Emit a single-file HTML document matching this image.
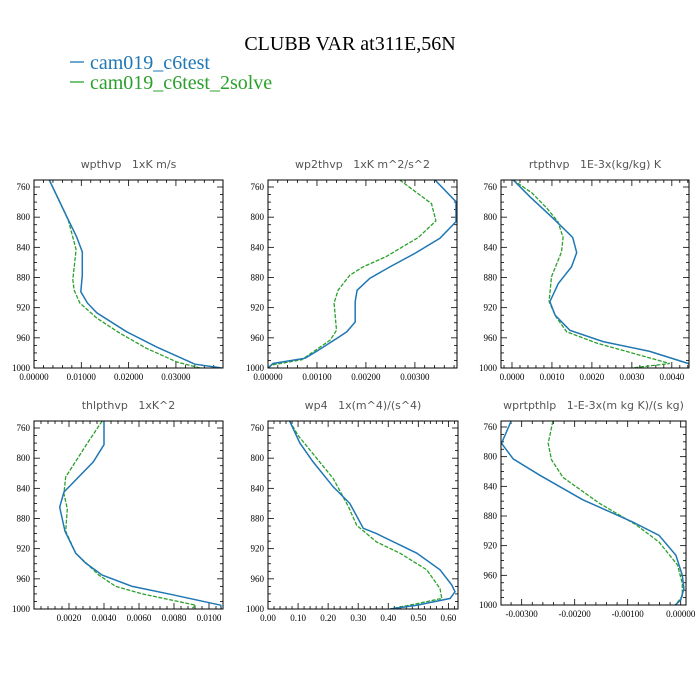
<!DOCTYPE html>
<html><head><meta charset="utf-8"><style>
html,body{margin:0;padding:0;background:#fff;}
svg{display:block;}
.ttl{font-family:"DejaVu Sans",sans-serif;font-size:11px;fill:#555;}
.tk{font-family:"Liberation Serif",serif;font-size:9px;fill:#000;}
</style></head><body>
<svg id="fig" width="700" height="700" viewBox="0 0 700 700">
<text x="350" y="50" text-anchor="middle" font-family="Liberation Serif,serif" font-size="20" fill="#000">CLUBB VAR at311E,56N</text>
<g>
<line x1="70" y1="62" x2="84" y2="62" stroke="#1f77b4" stroke-width="1.3"/>
<text x="90" y="69" font-family="Liberation Serif,serif" font-size="20" fill="#1f77b4">cam019_c6test</text>
<line x1="70" y1="82" x2="84" y2="82" stroke="#2ca02c" stroke-width="1.3"/>
<text x="90" y="89" font-family="Liberation Serif,serif" font-size="20" fill="#2ca02c">cam019_c6test_2solve</text>
</g>
</svg>
<script>
// ---- data ----
const p1Lev=[750.7,804,826,846,877,899,914,927,952,972,995,1000];
const p1Blue=[0.00324,0.0073,0.0090,0.0102,0.0102,0.0099,0.0113,0.0133,0.0196,0.0259,0.0340,0.0397];
const p1GreenLev=[750.7,804,843,883,897,914,934,954,974,992,1000];
const p1Green=[0.00324,0.00725,0.0089,0.0082,0.0085,0.0097,0.0133,0.0182,0.0238,0.0302,0.0351];
const p2Lev=[750.7,779.5,806,828,848,866,881,897,912,939,952,961,978,987,994,1000];
const p2Blue=[0.00341,0.00384,0.00384,0.00351,0.0030,0.00249,0.00208,0.00182,0.00178,0.00178,0.00161,0.0014,0.00099,0.00076,0.0001,0];
const p2GreenLev=[750.7,782,805,827,852,866,877,897,914,950,963,989,996,1000];
const p2Green=[0.00269,0.00334,0.00343,0.00307,0.00242,0.00194,0.00167,0.00143,0.00135,0.0014,0.00127,0.00069,0.00008,0];
const p3Lev=[750.7,773,804,827,847,866,888,912,930,950,965,978,994,1000];
const p3Blue=[0.00003,0.00045,0.00108,0.00152,0.00162,0.00149,0.00116,0.00095,0.00108,0.00145,0.00228,0.00345,0.00441,0.0046];
const p3GreenLev=[750.7,768,788,806,827,846,879,912,932,952,967,983,994,1000];
const p3Green=[0.00003,0.0005,0.00087,0.00115,0.00128,0.00124,0.00099,0.00093,0.0011,0.00137,0.00212,0.0032,0.00395,0.0030];
const p4Lev=[750.7,782,805,845,865,897,926,939,955,970,981,995,1000];
const p4Blue=[0.004,0.004,0.00339,0.00171,0.00147,0.00177,0.00238,0.00295,0.0039,0.00562,0.0079,0.01067,0.0107];
const p4GreenLev=[750.7,780,825,847,867,897,926,955,970,980,995,999];
const p4Green=[0.0039,0.00305,0.00181,0.00171,0.0019,0.00181,0.00238,0.00371,0.00467,0.00619,0.00924,0.00905];
const p5Lev=[750.7,780,805,838,860,893,900,926,948,968,977,986,995,1000];
const p5Blue=[0.072,0.106,0.15,0.217,0.272,0.317,0.361,0.495,0.572,0.611,0.622,0.606,0.495,0.406];
const p5GreenLev=[750.7,770,827,864,889,911,926,948,973,986,993,1000];
const p5Green=[0.072,0.10,0.217,0.267,0.295,0.361,0.439,0.528,0.572,0.578,0.495,0.406];
const p6Lev=[752,782,803,825,858,888,906,933,960,978,993,1000];
const p6Blue=[-0.0032,-0.00338,-0.00316,-0.00266,-0.00185,-0.00091,-0.00041,-0.00009,0.00003,0.00006,0,-0.0001];
const p6GreenLev=[752,782,804,828,863,892,915,946,971,988,1000];
const p6Green=[-0.00241,-0.0025,-0.00244,-0.00222,-0.00153,-0.00084,-0.00041,-0.00006,0.00003,0.00003,-0.0001];
const yTicks=[760,800,840,880,920,960,1000];
const p1XTicks=["0.00000","0.01000","0.02000","0.03000"];
const p2XTicks=["0.00000","0.00100","0.00200","0.00300"];
const p3XTicks=["0.0000","0.0010","0.0020","0.0030","0.0040"];
const p4XTicks=["0.0020","0.0040","0.0060","0.0080","0.0100"];
const p5XTicks=["0.00","0.10","0.20","0.30","0.40","0.50","0.60"];
const p6XTicks=["-0.00300","-0.00200","-0.00100","0.00000"];

const NS="http://www.w3.org/2000/svg";
const svg=document.getElementById('fig');
function mk(tag,attrs,parent){const e=document.createElementNS(NS,tag);for(const k in attrs)e.setAttribute(k,attrs[k]);(parent||svg).appendChild(e);return e;}

const panels=[
 {name:'wpthvp',title:'wpthvp   1xK m/s',x0:34,x1:223,yT:180,y760:187,yB:368,xmin:0,xmax:0.03995,major:0.01,ticks:p1XTicks,bl:p1Lev,bv:p1Blue,gl:p1GreenLev,gv:p1Green},
 {name:'wp2thvp',title:'wp2thvp   1xK m^2/s^2',x0:268,x1:457,yT:180,y760:187,yB:368,xmin:0,xmax:0.00386,major:0.001,ticks:p2XTicks,bl:p2Lev,bv:p2Blue,gl:p2GreenLev,gv:p2Green},
 {name:'rtpthvp',title:'rtpthvp   1E-3x(kg/kg) K',x0:501,x1:689,yT:180,y760:187,yB:368,xmin:-0.000275,xmax:0.00443,major:0.001,ticks:p3XTicks,bl:p3Lev,bv:p3Blue,gl:p3GreenLev,gv:p3Green},
 {name:'thlpthvp',title:'thlpthvp   1xK^2',x0:34,x1:223,yT:421,y760:428,yB:609,xmin:0,xmax:0.0108,major:0.002,ticks:p4XTicks,tickStart:0.002,bl:p4Lev,bv:p4Blue,gl:p4GreenLev,gv:p4Green},
 {name:'wp4',title:'wp4   1x(m^4)/(s^4)',x0:268,x1:458,yT:421,y760:428,yB:609,xmin:0,xmax:0.632,major:0.1,ticks:p5XTicks,bl:p5Lev,bv:p5Blue,gl:p5GreenLev,gv:p5Green},
 {name:'wprtpthlp',title:'wprtpthlp   1-E-3x(m kg K)/(s kg)',x0:501,x1:686,yT:421,y760:427,yB:605,xmin:-0.00339,xmax:0.0001,major:0.001,ticks:p6XTicks,tickStart:-0.003,bl:p6Lev,bv:p6Blue,gl:p6GreenLev,gv:p6Green}
];

panels.forEach(P=>{
 const g=mk('g',{});
 
 
 const sx=v=>P.x0+(v-P.xmin)/(P.xmax-P.xmin)*(P.x1-P.x0);
 const sy=p=>P.yB-(1000-p)*(P.yB-P.y760)/240;
 const cid='clip-'+P.name;
 const cp=mk('clipPath',{id:cid},g);
 mk('rect',{x:P.x0,y:P.yT,width:P.x1-P.x0,height:P.yB-P.yT},cp);
 const t=mk('text',{x:(P.x0+P.x1)/2,y:P.yT-12,'text-anchor':'middle',class:'ttl','xml:space':'preserve'},g);
 t.textContent=P.title.replace(/   /g,'\u00a0\u00a0\u00a0');
 
 
 // y ticks
 for(let p=760;p<=1000;p+=10){
  const y=sy(p);const L=(p%40===0)?6:3;
  mk('line',{x1:P.x0,y1:y,x2:P.x0+L,y2:y,stroke:'#000','stroke-width':0.8},g);
  mk('line',{x1:P.x1,y1:y,x2:P.x1-L,y2:y,stroke:'#000','stroke-width':0.8},g);
 }
 yTicks.forEach(p=>{
  const tt=mk('text',{x:P.x0-4,y:sy(p)+3,'text-anchor':'end',class:'tk'},g);
  tt.textContent=p;
  
  
 });
 // x ticks
 const minor=P.major/5;
 const startM=Math.ceil(P.xmin/minor-1e-6);
 for(let i=startM;i*minor<=P.xmax+1e-12;i++){
  const v=i*minor;const x=sx(v);const isMaj=Math.abs(Math.round(i/5)*5-i)<1e-6;const L=isMaj?6:3;
  mk('line',{x1:x,y1:P.yB,x2:x,y2:P.yB-L,stroke:'#000','stroke-width':0.8},g);
  mk('line',{x1:x,y1:P.yT,x2:x,y2:P.yT+L,stroke:'#000','stroke-width':0.8},g);
 }
 const ts=(P.tickStart!==undefined)?P.tickStart:0;
 P.ticks.forEach((lab,i)=>{
  const v=ts+i*P.major;
  const tt=mk('text',{x:sx(v),y:P.yB+12,'text-anchor':'middle',class:'tk'},g);
  tt.textContent=lab;
  
  
 });
 // series
 const pts=(lv,vv)=>lv.map((p,i)=>sx(vv[i]).toFixed(1)+','+sy(p).toFixed(1)).join(' ');
 const gr=mk('polyline',{points:pts(P.gl,P.gv),fill:'none',stroke:'#2ca02c','stroke-width':1.3,'stroke-dasharray':'4,1.5','clip-path':'url(#'+cid+')'},g);
 
 
 const bl=mk('polyline',{points:pts(P.bl,P.bv),fill:'none',stroke:'#1f77b4','stroke-width':1.5,'clip-path':'url(#'+cid+')'},g);
 
 
 const fr=mk('rect',{x:P.x0,y:P.yT,width:P.x1-P.x0,height:P.yB-P.yT,fill:'none',stroke:'#000','stroke-width':1},g);
 
 
});
</script>
</body></html>
